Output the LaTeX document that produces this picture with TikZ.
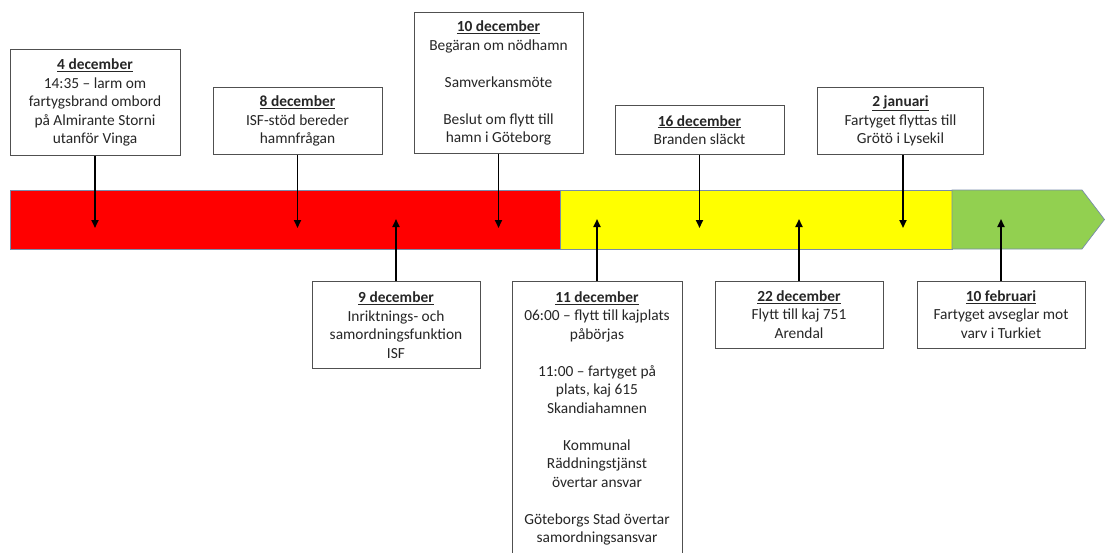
\documentclass[tikz,border=0pt]{standalone}
\usepackage{fontspec}
\setmainfont{Carlito}
\usetikzlibrary{arrows.meta}
\definecolor{boxgray}{RGB}{80,80,80}
\definecolor{barline}{RGB}{120,140,170}
\definecolor{txt}{RGB}{38,38,38}
\definecolor{barred}{RGB}{255,0,0}
\definecolor{baryellow}{RGB}{255,255,0}
\definecolor{bargreen}{RGB}{146,208,80}
\newcommand{\evdate}[1]{\underline{\textbf{#1}}}
\tikzset{
  evbox/.style={draw=boxgray, line width=0.8pt, fill=white, align=center,
    text=txt, font=\fontsize{15.4}{18.5}\selectfont, inner xsep=2pt, inner ysep=7pt},
  tl/.style={-{Triangle[length=8pt,width=7pt]}, line width=1.8pt, black},
  barseg/.style={draw=barline, line width=0.7pt}
}
\begin{document}
\begin{tikzpicture}[x=1pt,y=-1pt]
\useasboundingbox (0,0) rectangle (1105,552);
\clip (0,0) rectangle (1105,552);
% timeline bar
\filldraw[barseg, fill=barred] (10,190) rectangle (560,249);
\filldraw[barseg, fill=baryellow] (560,190) rectangle (952,249);
\filldraw[barseg, fill=bargreen] (952,190) -- (1082,190) -- (1104.5,219.5) -- (1082,249) -- (952,249) -- cycle;
% top boxes
\node[evbox, minimum width=170pt, minimum height=106pt] (d4) at (95,102.5)
  {\evdate{4 december}\\14:35 – larm om\\fartygsbrand ombord\\på Almirante Storni\\utanför Vinga};
\node[evbox, minimum width=169pt, minimum height=67pt] (d8) at (297.5,121)
  {\evdate{8 december}\\ISF-stöd bereder\\hamnfrågan};
\node[evbox, minimum width=169pt, minimum height=141pt] (d10) at (498.5,83)
  {\evdate{10 december}\\Begäran om nödhamn\\[18.5pt]Samverkansmöte\\[18.5pt]Beslut om flytt till\\hamn i Göteborg};
\node[evbox, minimum width=169pt, minimum height=49pt] (d16) at (699.5,130)
  {\evdate{16 december}\\Branden släckt};
\node[evbox, minimum width=166pt, minimum height=67pt] (j2) at (900.5,121)
  {\evdate{2 januari}\\Fartyget flyttas till\\Grötö i Lysekil};
% bottom boxes
\node[evbox, minimum width=168pt, minimum height=87pt] (d9) at (396,325)
  {\evdate{9 december}\\Inriktnings- och\\samordningsfunktion\\ISF};
\node[evbox, minimum width=170pt, anchor=north, inner ysep=10pt] (d11) at (597,281)
  {\evdate{11 december}\\06:00 – flytt till kajplats\\påbörjas\\[18.5pt]11:00 – fartyget på\\plats, kaj 615\\Skandiahamnen\\[18.5pt]Kommunal\\Räddningstjänst\\övertar ansvar\\[18.5pt]Göteborgs Stad övertar\\samordningsansvar};
\node[evbox, minimum width=168pt, minimum height=67pt] (d22) at (799,314.5)
  {\evdate{22 december}\\Flytt till kaj 751\\Arendal};
\node[evbox, minimum width=168pt, minimum height=67pt] (f10) at (1001,314.5)
  {\evdate{10 februari}\\Fartyget avseglar mot\\varv i Turkiet};
% arrow targets on the bar
\coordinate (t4) at (95,228);
\coordinate (t8) at (297.5,228);
\coordinate (t10) at (498.5,228);
\coordinate (t16) at (699.5,228);
\coordinate (tj2) at (903,228);
\coordinate (t9) at (396,219);
\coordinate (t11) at (597,219);
\coordinate (t22) at (799,219);
\coordinate (tf10) at (1001,219);
% connectors
\draw[tl] (d4.south) -- (t4);
\draw[tl] (d8.south) -- (t8);
\draw[tl] (d10.south) -- (t10);
\draw[tl] (d16.south) -- (t16);
\draw[tl] (j2.south -| tj2) -- (tj2);
\draw[tl] (d9.north) -- (t9);
\draw[tl] (d11.north) -- (t11);
\draw[tl] (d22.north) -- (t22);
\draw[tl] (f10.north) -- (tf10);
\end{tikzpicture}
\end{document}
